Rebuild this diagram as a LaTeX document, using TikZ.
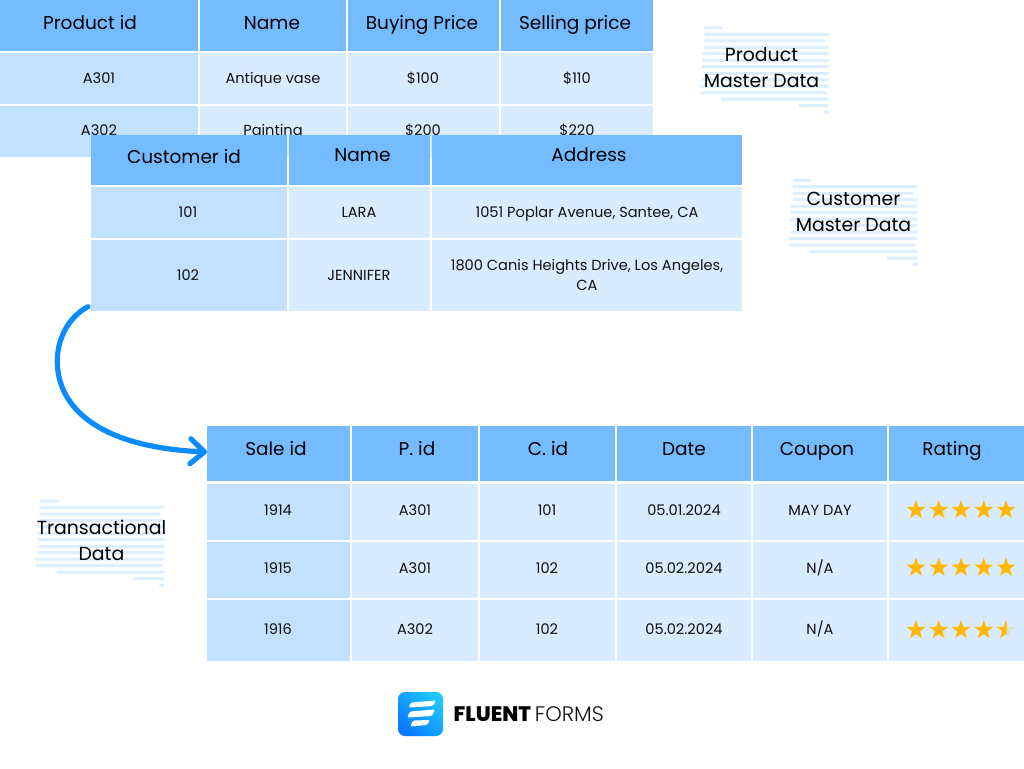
\documentclass[tikz,border=0pt]{standalone}
\usepackage{fontspec}
\setmainfont{Poppins}
\newfontfamily\popbold{Poppins ExtraBold}
\newfontfamily\poplight{Poppins Light}
\usetikzlibrary{arrows.meta,shapes.geometric}
\definecolor{hdr}{HTML}{74BBFF}
\definecolor{col1}{HTML}{C1E1FF}
\definecolor{col2}{HTML}{D9ECFF}
\definecolor{stripe}{HTML}{DCEEFF}
\definecolor{gold}{HTML}{FFB800}
\definecolor{halfgrey}{HTML}{DDDDD8}
\definecolor{ink}{HTML}{111111}
\definecolor{flow}{HTML}{0A8CFF}
\definecolor{logoa}{HTML}{1FC6FF}
\definecolor{logob}{HTML}{0A7BFF}
\tikzset{
  cellbox/.style={rectangle,inner sep=0pt,outer sep=0pt,anchor=center},
  headtxt/.style={font=\fontsize{18.5}{20}\selectfont,text=black,inner sep=0pt,text height=13pt,text depth=0pt,yshift=-0.5pt},
  bodytxt/.style={font=\fontsize{14.6}{20}\selectfont,text=ink,inner sep=0pt,text height=10pt,text depth=0pt,yshift=-0.7pt},
  labeltxt/.style={font=\fontsize{18.9}{26}\selectfont,text=black,inner sep=0pt,align=center,yshift=-0.7pt},
  bar/.style={fill=stripe,rounded corners=1pt},
  starmark/.style={star,star points=5,star point ratio=2.5,minimum size=20pt,inner sep=0pt,outer sep=0pt,fill=gold},
}
% name, x0, y0, x1, y1, colour
\newcommand{\tcell}[6]{\pgfmathsetmacro{\cw}{#4-#2}\pgfmathsetmacro{\ch}{#5-#3}%
  \node[cellbox,fill=#6,minimum width=\cw pt,minimum height=\ch pt] (#1) at ({(#2+#4)/2},{(#3+#5)/2}) {};}
\newcommand{\sbar}[3]{\fill[bar] (#1,#3-1.5) rectangle (#2,#3+1.5);}
\newcommand{\stripeset}[2]{\begin{scope}[shift={(#1,#2)}]
  \sbar{704}{723}{28}\sbar{704}{829}{34.3}\sbar{704}{825}{41}\sbar{704}{829}{47.3}
  \sbar{702}{829}{53.7}\sbar{702}{829}{60.3}\sbar{702}{829}{66.7}\sbar{704}{829}{73.3}
  \sbar{702}{829}{79.7}\sbar{700}{829}{86}\sbar{700}{827}{92.7}\sbar{721}{829}{99}
  \sbar{798}{829}{105.7}\sbar{824}{829}{112.3}
\end{scope}}
\begin{document}
\begin{tikzpicture}[x=1pt,y=-1pt]
\useasboundingbox (0,0) rectangle (1024,768);
\fill[white] (0,0) rectangle (1024,768);

% stripes behind labels
\stripeset{0}{0}
\stripeset{88.6}{152.3}
\stripeset{-664.7}{473}

% product table
\tcell{pa}{0}{0}{198}{51}{hdr}\tcell{pb}{200}{0}{346}{51}{hdr}\tcell{pc}{348}{0}{499}{51}{hdr}\tcell{pd}{501}{0}{653}{51}{hdr}
\tcell{pe}{0}{53}{198}{104}{col1}\tcell{pf}{200}{53}{346}{104}{col2}\tcell{pg}{348}{53}{499}{104}{col2}\tcell{ph}{501}{53}{653}{104}{col2}
\tcell{pi}{0}{106}{198}{157}{col1}\tcell{pj}{200}{106}{346}{157}{col2}\tcell{pk}{348}{106}{499}{157}{col2}\tcell{pl}{501}{106}{653}{157}{col2}
\node[headtxt] (tpa) at (90,23) {Product id};
\node[headtxt] (tpb) at (272,23) {Name};
\node[headtxt] (tpc) at (422,23) {Buying Price};
\node[headtxt] (tpd) at (575,23) {Selling price};
\node[bodytxt] (tpe) at (99,78) {A301};
\node[bodytxt] (tpf) at (273,78) {Antique vase};
\node[bodytxt] (tpg) at (423,78) {\$100};
\node[bodytxt] (tph) at (577,78) {\$110};
\node[bodytxt] (tpi) at (99,130) {A302};
\node[bodytxt] (tpj) at (273,130) {Painting};
\node[bodytxt] (tpk) at (423,130) {\$200};
\node[bodytxt] (tpl) at (577,130) {\$220};
\node[labeltxt] (lprod) at (761.5,67) {Product\\Master Data};

% customer table
\tcell{ca}{91}{135}{287}{185}{hdr}\tcell{cb}{289}{135}{430}{185}{hdr}\tcell{cc}{432}{135}{742}{185}{hdr}
\tcell{cd}{91}{187}{287}{238}{col1}\tcell{ce}{289}{187}{430}{238}{col2}\tcell{cf}{432}{187}{742}{238}{col2}
\tcell{cg}{91}{240}{287}{311}{col1}\tcell{ch}{289}{240}{430}{311}{col2}\tcell{ci}{432}{240}{742}{311}{col2}
\node[headtxt] (tca) at (184,156) {Customer id};
\node[headtxt] (tcb) at (362.5,154) {Name};
\node[headtxt] (tcc) at (589,154) {Address};
\node[bodytxt] (tcd) at (188,212) {101};
\node[bodytxt] (tce) at (359,212) {LARA};
\node[bodytxt] (tcf) at (587,212) {1051 Poplar Avenue, Santee, CA};
\node[bodytxt] (tcg) at (188,275) {102};
\node[bodytxt] (tch) at (359,275) {JENNIFER};
\node[bodytxt] (tci) at (587,265) {1800 Canis Heights Drive, Los Angeles,};
\node[bodytxt] (tcj) at (587,285) {CA};
\node[labeltxt] (lcust) at (853.5,211) {Customer\\Master Data};

% transactional table
\tcell{sa}{207}{426}{350}{481}{hdr}\tcell{sb}{352}{426}{478}{481}{hdr}\tcell{sc}{480}{426}{615}{481}{hdr}\tcell{sd}{617}{426}{751}{481}{hdr}\tcell{se}{753}{426}{887}{481}{hdr}\tcell{sf}{889}{426}{1024}{481}{hdr}
\tcell{ra}{207}{484}{350}{540}{col1}\tcell{rb}{352}{484}{478}{540}{col2}\tcell{rc}{480}{484}{615}{540}{col2}\tcell{rd}{617}{484}{751}{540}{col2}\tcell{re}{753}{484}{887}{540}{col2}\tcell{rf}{889}{484}{1024}{540}{col2}
\tcell{qa}{207}{542}{350}{598}{col1}\tcell{qb}{352}{542}{478}{598}{col2}\tcell{qc}{480}{542}{615}{598}{col2}\tcell{qd}{617}{542}{751}{598}{col2}\tcell{qe}{753}{542}{887}{598}{col2}\tcell{qf}{889}{542}{1024}{598}{col2}
\tcell{ua}{207}{600}{350}{661}{col1}\tcell{ub}{352}{600}{478}{661}{col2}\tcell{uc}{480}{600}{615}{661}{col2}\tcell{ud}{617}{600}{751}{661}{col2}\tcell{ue}{753}{600}{887}{661}{col2}\tcell{uf}{889}{600}{1024}{661}{col2}
\node[headtxt] (tsa) at (276,448) {Sale id};
\node[headtxt] (tsb) at (417,448) {P. id};
\node[headtxt] (tsc) at (548,448) {C. id};
\node[headtxt] (tsd) at (684,448) {Date};
\node[headtxt] (tse) at (817,448) {Coupon};
\node[headtxt] (tsf) at (952,448) {Rating};
\node[bodytxt] (tra) at (278,510) {1914};
\node[bodytxt] (trb) at (415,510) {A301};
\node[bodytxt] (trc) at (547,510) {101};
\node[bodytxt] (trd) at (684,510) {05.01.2024};
\node[bodytxt] (tre) at (820,510) {MAY DAY};
\node[bodytxt] (tqa) at (278,568) {1915};
\node[bodytxt] (tqb) at (415,568) {A301};
\node[bodytxt] (tqc) at (547,568) {102};
\node[bodytxt] (tqd) at (684,568) {05.02.2024};
\node[bodytxt] (tqe) at (820,568) {N/A};
\node[bodytxt] (tua) at (278,629) {1916};
\node[bodytxt] (tub) at (415,629) {A302};
\node[bodytxt] (tuc) at (547,629) {102};
\node[bodytxt] (tud) at (684,629) {05.02.2024};
\node[bodytxt] (tue) at (820,629) {N/A};
\node[labeltxt] (ltrans) at (101.5,540) {Transactional\\Data};

% stars
\foreach \sx [count=\i] in {916,938.7,961,983.7,1006}{
  \node[starmark] (sr-\i) at (\sx,510) {};
  \node[starmark] (sq-\i) at (\sx,567.7) {};
}
\foreach \sx [count=\i] in {916,938.7,961,983.7}{
  \node[starmark] (su-\i) at (\sx,630) {};
}
\node[starmark,fill=halfgrey] (su-5) at (1006,630) {};
\begin{scope}
  \clip (990,615) rectangle (1006.5,645);
  \node[starmark] (su-5g) at (1006,630) {};
\end{scope}

% connector
\coordinate (cstart) at (88,306.7);
\coordinate (cbend) at (57.3,361.7);
\draw[flow,line width=5.2pt,line cap=round,line join=round,-{Straight Barb[length=14pt,width=25pt,line width=5.2pt,round]}]
  (cstart) .. controls (68,317) and (57,340) .. (cbend)
  .. controls (57.6,405) and (95,447) .. (sa.west |- 0,452);

% logo
\shade[rounded corners=7pt,left color=logoa,right color=logob,shading angle=-45]
  (398,692) rectangle (443,736);
\fill[white,rounded corners=1.5pt] (408.5,707.5) -- (411,702.5) -- (436,700.5) -- (433,706) -- cycle;
\fill[white,rounded corners=1.5pt] (407,717.5) -- (410,711.5) -- (435,709.5) -- (432,716) -- cycle;
\fill[white,rounded corners=1.5pt] (410,726.5) -- (413,720.5) -- (430,720) -- (427,725) -- cycle;
\node[anchor=base west,inner sep=0pt,font=\fontsize{21}{22}\selectfont\popbold] (lgf) at (453.5,721) {FLUENT};
\node[anchor=base west,inner sep=0pt,font=\fontsize{21}{22}\selectfont\poplight,text=ink] (lgs) at (lgf.base east) {\,FORMS};
\end{tikzpicture}
\end{document}
